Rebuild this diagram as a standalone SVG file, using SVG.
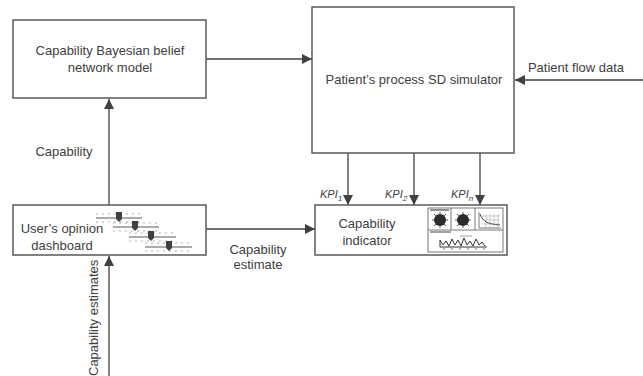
<svg xmlns="http://www.w3.org/2000/svg" width="643" height="376" viewBox="0 0 643 376">
  <defs>
    <marker id="arrow" viewBox="0 0 10 10" refX="10" refY="5" markerWidth="10" markerHeight="10" markerUnits="userSpaceOnUse" orient="auto">
      <path d="M0,0 L10,5 L0,10 Z" fill="#404040"/>
    </marker>
    <path id="thumb" d="M-3,-5 H3 V2 L0,5 L-3,2 Z" fill="#404040"/>
  </defs>
  <style>
    .box { fill: #ffffff; stroke: #595959; stroke-width: 1.5; }
    .edge { fill: none; stroke: #404040; stroke-width: 1.3; marker-end: url(#arrow); }
    text { font-family: "Liberation Sans", Arial, sans-serif; font-size: 13px; fill: #404040; }
    .mid { text-anchor: middle; }
    .kpi { font-style: italic; font-size: 11px; }
    .track { stroke: #595959; stroke-width: 1.2; }
    .tick { stroke: #9a9a9a; stroke-width: 0.8; stroke-dasharray: 2 4; }
    .ico { fill: none; stroke: #555; stroke-width: 0.8; }
  </style>

  <rect width="643" height="376" fill="#ffffff"/>

  <!-- connectors -->
  <g id="connectors">
    <line class="edge" x1="206" y1="59" x2="312" y2="59"/>
    <line class="edge" x1="643" y1="80" x2="515" y2="80"/>
    <line class="edge" x1="109" y1="205" x2="109" y2="99"/>
    <line class="edge" x1="109" y1="376" x2="109" y2="256"/>
    <line class="edge" x1="206" y1="229" x2="315" y2="229"/>
    <line class="edge" x1="348" y1="153" x2="348" y2="205"/>
    <line class="edge" x1="414" y1="153" x2="414" y2="205"/>
    <line class="edge" x1="480" y1="153" x2="480" y2="205"/>
    <text class="mid" x="64" y="156">Capability</text>
    <text class="mid" x="576" y="72">Patient flow data</text>
    <text class="mid" x="258" y="254">Capability</text>
    <text class="mid" x="258" y="269">estimate</text>
    <text transform="translate(98,376) rotate(-90)">Capability estimates</text>
    <text class="kpi" x="320" y="198">KPI<tspan font-size="8" dy="3">1</tspan></text>
    <text class="kpi" x="385" y="198">KPI<tspan font-size="8" dy="3">2</tspan></text>
    <text class="kpi" x="451" y="198">KPI<tspan font-size="8" dy="3">n</tspan></text>
  </g>

  <!-- Bayesian belief network model -->
  <g id="bbn-model">
    <rect class="box" x="13" y="20" width="193" height="78"/>
    <text class="mid" x="110" y="55">Capability Bayesian belief</text>
    <text class="mid" x="110" y="72">network model</text>
  </g>

  <!-- SD simulator -->
  <g id="sd-simulator">
    <rect class="box" x="312" y="7" width="202" height="146"/>
    <text class="mid" x="414" y="84">Patient’s process SD simulator</text>
  </g>

  <!-- opinion dashboard with sliders -->
  <g id="opinion-dashboard">
    <rect class="box" x="13" y="205" width="193" height="50"/>
    <text class="mid" x="62" y="233">User’s opinion</text>
    <text class="mid" x="62" y="250">dashboard</text>
    <g>
      <line class="tick" x1="96" y1="214" x2="142" y2="214"/>
      <line class="tick" x1="96" y1="222" x2="142" y2="222"/>
      <line class="track" x1="96" y1="218" x2="142" y2="218"/>
      <use href="#thumb" x="119" y="217"/>
      <line class="tick" x1="113" y1="223" x2="159" y2="223"/>
      <line class="tick" x1="113" y1="231" x2="159" y2="231"/>
      <line class="track" x1="113" y1="227" x2="159" y2="227"/>
      <use href="#thumb" x="135" y="226"/>
      <line class="tick" x1="129" y1="233" x2="176" y2="233"/>
      <line class="tick" x1="129" y1="241" x2="176" y2="241"/>
      <line class="track" x1="129" y1="237" x2="176" y2="237"/>
      <use href="#thumb" x="151" y="236"/>
      <line class="tick" x1="145" y1="243" x2="192" y2="243"/>
      <line class="tick" x1="145" y1="251" x2="192" y2="251"/>
      <line class="track" x1="145" y1="247" x2="192" y2="247"/>
      <use href="#thumb" x="169" y="246"/>
    </g>
  </g>

  <!-- capability indicator with mini charts -->
  <g id="capability-indicator">
    <rect class="box" x="315" y="205" width="192" height="50"/>
    <text class="mid" x="367" y="228">Capability</text>
    <text class="mid" x="367" y="245">indicator</text>
    <g>
      <rect class="ico" x="428" y="208" width="75" height="44"/>
      <line class="ico" x1="428" y1="230" x2="503" y2="230"/>
      <line class="ico" x1="451" y1="208" x2="451" y2="230"/>
      <line class="ico" x1="475" y1="208" x2="475" y2="230"/>
      <line x1="430" y1="210" x2="449" y2="210" stroke="#444" stroke-width="1.2"/>
      <circle cx="440" cy="220" r="6" fill="#2b2b2b"/>
      <path d="M432,220 H448 M440,212 V228 M434,214 L446,226 M446,214 L434,226" stroke="#2b2b2b" stroke-width="0.8"/>
      <circle cx="463" cy="220" r="6" fill="#2b2b2b"/>
      <path d="M455,220 H471 M463,212 V228 M457,214 L469,226 M469,214 L457,226" stroke="#2b2b2b" stroke-width="0.8"/>
      <path d="M479,212 V228 H501" class="ico"/>
      <path d="M480,214 C483,222 488,224 500,225" fill="none" stroke="#333" stroke-width="1"/>
      <path d="M482,216 H500 M482,220 H500 M482,224 H500 M486,214 V228 M490,214 V228 M494,214 V228 M498,214 V228" stroke="#999" stroke-width="0.5"/>
      <line x1="430" y1="232" x2="451" y2="232" stroke="#444" stroke-width="1"/>
      <line x1="460" y1="236" x2="472" y2="236" stroke="#888" stroke-width="0.8"/>
      <path d="M440,247 V240 L443,245 L446,241 L449,246 L452,239 L455,245 L458,240 L461,246 L464,238 L467,245 L470,241 L473,246 L476,239 L479,245 L482,242 L485,246 M440,247 H487" fill="none" stroke="#333" stroke-width="1"/>
      <path d="M444,248 V250 M452,248 V250 M460,248 V250 M468,248 V250 M476,248 V250 M484,248 V250" stroke="#555" stroke-width="0.8"/>
    </g>
  </g>
</svg>
